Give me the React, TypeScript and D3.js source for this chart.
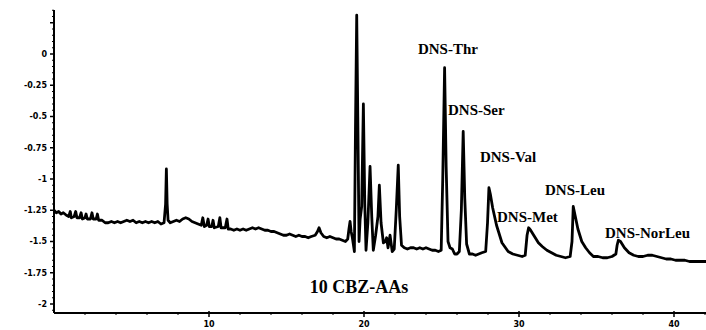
import React from "react";
import * as d3 from "d3";

const traceTime = [
  0, 0.15, 0.3, 0.45, 0.6, 0.8, 0.95, 1.05, 1.12, 1.3, 1.4, 1.48, 1.65, 1.75, 1.83, 2.0, 2.07, 2.15, 2.35, 2.45, 2.53, 2.72, 2.8, 2.88,
  3.1, 3.3, 3.5, 3.7, 3.9, 4.1, 4.3, 4.5, 4.7, 4.9, 5.1, 5.3, 5.5, 5.7, 5.9, 6.1, 6.3, 6.5, 6.7, 6.9, 7.1, 7.2, 7.25, 7.3, 7.36,
  7.5, 7.7, 7.9, 8.1, 8.3, 8.5, 8.7, 8.9, 9.1, 9.3, 9.5, 9.6, 9.7, 9.85, 9.94, 10.02, 10.18, 10.26, 10.34, 10.6, 10.7, 10.78,
  11.05, 11.16, 11.24, 11.4, 11.6, 11.8, 12.0, 12.2, 12.4, 12.6, 12.8, 13.0, 13.2, 13.4, 13.6, 13.8, 14.0, 14.2, 14.4, 14.6,
  14.8, 15.0, 15.2, 15.4, 15.6, 15.8, 16.0, 16.2, 16.4, 16.6, 16.85, 17.0, 17.1, 17.22, 17.4, 17.6, 17.8, 18.0, 18.2, 18.4,
  18.6, 18.8, 18.95, 19.03, 19.1, 19.17, 19.25, 19.38, 19.45, 19.53, 19.6, 19.68, 19.75, 19.85, 19.96, 20.05, 20.13, 20.25,
  20.39, 20.5, 20.6, 20.75, 20.9, 20.99, 21.1, 21.25, 21.38, 21.46, 21.55, 21.68, 21.82, 21.95, 22.08, 22.21, 22.3, 22.42,
  22.6, 22.8, 23.0, 23.2, 23.4, 23.6, 23.8, 24.0, 24.2, 24.4, 24.6, 24.8, 24.98, 25.08, 25.2, 25.3, 25.42, 25.55, 25.7, 25.85,
  26.0, 26.15, 26.28, 26.4, 26.5, 26.62, 26.8, 27.0, 27.2, 27.4, 27.6, 27.85, 27.97, 28.06, 28.15, 28.3, 28.55, 28.9, 29.3,
  29.6, 29.9, 30.2, 30.4, 30.52, 30.62, 30.75, 30.95, 31.25, 31.5, 31.8, 32.1, 32.4, 32.7, 33.0, 33.3, 33.42, 33.5, 33.6, 33.8,
  34.05, 34.3, 34.55, 34.8, 35.1, 35.4, 35.7, 36.0, 36.25, 36.33, 36.41, 36.55, 36.8, 37.1, 37.4, 37.7, 38.0, 38.3, 38.6, 38.9,
  39.2, 39.5, 39.8, 40.1, 40.4, 40.7, 41.0, 41.3, 41.6, 42.1,
];

const traceValue = [
  -1.25, -1.27, -1.26, -1.28, -1.27, -1.29, -1.3, -1.26, -1.31, -1.3, -1.26, -1.31, -1.31, -1.27, -1.32, -1.31, -1.28, -1.32, -1.32, -1.27, -1.32, -1.32, -1.28, -1.33,
  -1.33, -1.35, -1.35, -1.34, -1.35, -1.34, -1.35, -1.34, -1.33, -1.34, -1.33, -1.35, -1.34, -1.35, -1.34, -1.35, -1.34, -1.35, -1.34, -1.36, -1.35, -1.2, -0.92, -1.2, -1.33,
  -1.35, -1.34, -1.33, -1.34, -1.32, -1.31, -1.32, -1.34, -1.35, -1.36, -1.37, -1.31, -1.38, -1.37, -1.32, -1.38, -1.38, -1.33, -1.39, -1.38, -1.31, -1.39,
  -1.39, -1.32, -1.4, -1.4, -1.41, -1.4, -1.41, -1.4, -1.41, -1.4, -1.39, -1.4, -1.39, -1.4, -1.41, -1.41, -1.42, -1.42, -1.43, -1.44,
  -1.45, -1.45, -1.44, -1.45, -1.46, -1.45, -1.46, -1.46, -1.47, -1.46, -1.45, -1.42, -1.39, -1.43, -1.46, -1.47, -1.46, -1.47, -1.48, -1.48,
  -1.49, -1.5, -1.48, -1.4, -1.34, -1.42, -1.47, -1.58, -0.6, 0.31, -0.5, -1.5, -1.32, -1.22, -0.4, -1.2, -1.57, -1.35,
  -0.9, -1.3, -1.57, -1.45, -1.3, -1.05, -1.35, -1.51, -1.5, -1.47, -1.55, -1.45, -1.58, -1.56, -1.25, -0.89, -1.3, -1.53,
  -1.55, -1.56, -1.55, -1.55, -1.56, -1.55, -1.56, -1.55, -1.56, -1.57, -1.57, -1.58, -1.57, -1.0, -0.11, -0.9, -1.5, -1.55, -1.56, -1.6,
  -1.6, -1.58, -1.25, -0.62, -1.15, -1.52, -1.6, -1.6, -1.61, -1.6, -1.59, -1.58, -1.35, -1.07, -1.12, -1.23, -1.37, -1.51, -1.58,
  -1.6, -1.61, -1.62, -1.61, -1.45, -1.39, -1.41, -1.45, -1.51, -1.54, -1.57, -1.59, -1.61, -1.62, -1.63, -1.62, -1.5, -1.22, -1.28, -1.4,
  -1.5, -1.55, -1.59, -1.62, -1.62, -1.63, -1.63, -1.62, -1.6, -1.53, -1.49, -1.5, -1.55, -1.59, -1.61, -1.62, -1.62, -1.61, -1.61, -1.62,
  -1.63, -1.64, -1.64, -1.65, -1.65, -1.65, -1.66, -1.66, -1.66, -1.66,
];

const yTickValues = [0.25, 0, -0.25, -0.5, -0.75, -1, -1.25, -1.5, -1.75, -2];
const yTickLabels = ["", "0", "-0.25", "-0.5", "-0.75", "-1", "-1.25", "-1.5", "-1.75", "-2"];
const xTickValues = [10, 20, 30, 40];
const xTickLabels = ["10", "20", "30", "40"];

const peakNames = ["DNS-Thr", "DNS-Ser", "DNS-Val", "DNS-Met", "DNS-Leu", "DNS-NorLeu"];
const peakLabelTime = [23.48, 25.42, 27.48, 28.58, 31.68, 35.55];
const peakLabelValue = [0.0, -0.488, -0.864, -1.344, -1.128, -1.472];
const groupLabel = ["10 CBZ-AAs"];
const groupLabelTime = [16.5];
const groupLabelValue = [-1.912];

const W = 706;
const H = 330;

export default function App() {
  const x = d3.scaleLinear().domain([0, 40]).range([54, 674]);
  const y = d3.scaleLinear().domain([-2, 0]).range([304, 54]);
  const xMax = x.invert(W);
  const yTop = y.invert(10);
  const yBottom = y.invert(313);

  const pts: [number, number][] = traceTime.map((t, i) => [t, traceValue[i]]);
  const line = d3
    .line<[number, number]>()
    .x((d) => x(d[0]))
    .y((d) => y(d[1]))
    .curve(d3.curveLinear);

  const yMinor = d3.range(0.35, yBottom, -0.05).filter((v) => Math.abs(Math.round(v * 4) - v * 4) > 0.01);
  const xMinor = d3.range(2, xMax, 2).filter((v) => v % 10 !== 0);

  const sans = "'DejaVu Sans', sans-serif";
  const serif = "'Liberation Serif', 'Times New Roman', serif";

  return (
    <svg width={W} height={H} style={{ position: "absolute", left: 0, top: 0, background: "#fff" }}>
      <rect x={0} y={0} width={W} height={H} fill="#fff" />
      <line x1={x(0)} x2={x(0)} y1={y(yTop)} y2={y(yBottom)} stroke="#000" strokeWidth={2} />
      <line x1={x(0)} x2={x(xMax)} y1={y(yBottom)} y2={y(yBottom)} stroke="#000" strokeWidth={2} />
      {yTickValues.map((v, i) => (
        <g key={"yt" + i}>
          <line x1={x(0) - 4} x2={x(0)} y1={y(v)} y2={y(v)} stroke="#000" strokeWidth={1.5} />
          <text x={x(0) - 7} y={y(v)} dy="0.35em" textAnchor="end" fontFamily={sans} fontWeight="bold" fontSize={8} fill="#000">
            {yTickLabels[i]}
          </text>
        </g>
      ))}
      {yMinor.map((v, i) => (
        <line key={"ym" + i} x1={x(0) - 2} x2={x(0)} y1={y(v)} y2={y(v)} stroke="#000" strokeWidth={1} />
      ))}
      {xTickValues.map((v, i) => (
        <g key={"xt" + i}>
          <line x1={x(v)} x2={x(v)} y1={y(yBottom) - 2} y2={y(yBottom) + 4} stroke="#000" strokeWidth={1.5} />
          <text x={x(v)} y={y(yBottom) + 14} textAnchor="middle" fontFamily={sans} fontWeight="bold" fontSize={8} fill="#000">
            {xTickLabels[i]}
          </text>
        </g>
      ))}
      {xMinor.map((v, i) => (
        <line key={"xm" + i} x1={x(v)} x2={x(v)} y1={y(yBottom)} y2={y(yBottom) + 2} stroke="#000" strokeWidth={1} />
      ))}
      <path d={line(pts) || ""} fill="none" stroke="#000" strokeWidth={2.8} strokeLinejoin="round" />
      {peakNames.map((n, i) => (
        <text key={n} x={x(peakLabelTime[i])} y={y(peakLabelValue[i])} fontFamily={serif} fontWeight="bold" fontSize={15} fill="#000">
          {n}
        </text>
      ))}
      {groupLabel.map((n, i) => (
        <text key={n} x={x(groupLabelTime[i])} y={y(groupLabelValue[i])} fontFamily={serif} fontWeight="bold" fontSize={18} fill="#000">
          {n}
        </text>
      ))}
    </svg>
  );
}
